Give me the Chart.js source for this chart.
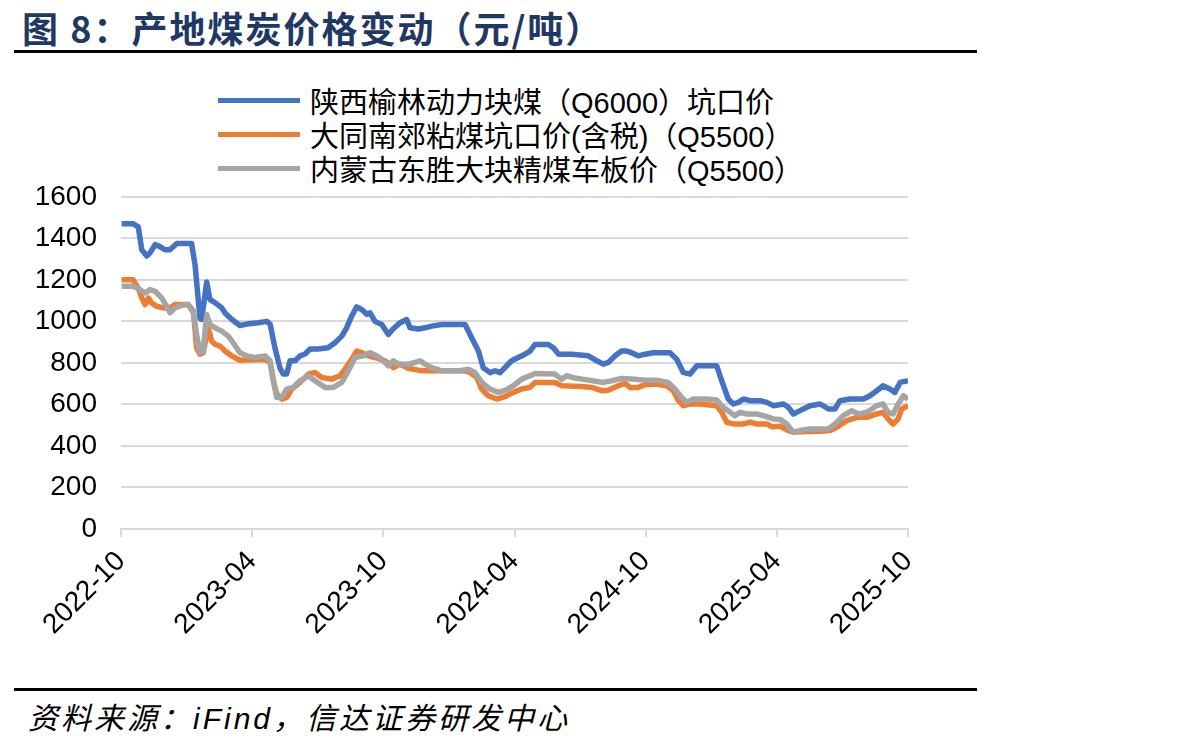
<!DOCTYPE html>
<html lang="zh">
<head>
<meta charset="UTF-8">
<title>产地煤炭价格变动</title>
<script src="https://cdn.jsdelivr.net/npm/chart.js@4.4.0/dist/chart.umd.min.js"></script>
<style>
    body {
        margin: 0;
        width: 1187px;
        height: 745px;
        background: #fff;
        position: relative;
        overflow: hidden;
        font-family: 'Liberation Sans', Arial, 'Noto Sans CJK SC', sans-serif;
    }
    .title {
        position: absolute;
        left: 22px;
        top: 1px;
        font-family: 'Noto Sans CJK SC', sans-serif;
        font-weight: bold;
        font-size: 36px;
        letter-spacing: 2px;
        color: #1f3864;
        white-space: nowrap;
    }
    .rule {
        position: absolute;
        left: 14px;
        width: 963px;
        height: 3px;
        background: #000;
    }
    .legend {
        position: absolute;
        left: 218px;
        top: 83px;
    }
    .legend-row {
        display: flex;
        align-items: center;
        height: 34px;
        font-family: 'Liberation Sans', Arial, 'Noto Sans CJK SC', sans-serif;
        font-size: 29px;
        color: #000;
        white-space: nowrap;
    }
    .legend-line {
        width: 82px;
        height: 5px;
        margin-right: 10px;
    }
    .source {
        position: absolute;
        left: 28px;
        top: 694px;
        font-family: 'Liberation Sans', Arial, 'Noto Sans CJK SC', sans-serif;
        font-style: italic;
        font-size: 30px;
        letter-spacing: 3px;
        color: #000;
        white-space: nowrap;
    }
    .chart-box {
        position: absolute;
        left: 0;
        top: 156px;
    }
</style>
</head>
<body>
    <div class="title">图 8：产地煤炭价格变动（元/吨）</div>
    <div class="rule" style="top:50px"></div>

    <div class="legend" id="legend"></div>

    <div class="chart-box">
        <canvas id="coalChart" width="960" height="500"></canvas>
    </div>

    <div class="rule" style="top:688px"></div>
    <div class="source">资料来源：iFind，信达证券研发中心</div>

<script>
// 横轴：以2022-10为0的月份数
const tickLabels = ['2022-10', '2023-04', '2023-10', '2024-04', '2024-10', '2025-04', '2025-10'];
const seriesNames = [
    '陕西榆林动力块煤（Q6000）坑口价',
    '大同南郊粘煤坑口价(含税)（Q5500）',
    '内蒙古东胜大块精煤车板价（Q5500）'
];
const seriesColors = ['#4472c4', '#ed7d31', '#a5a5a5'];

// 陕西榆林动力块煤
const yulinMonth = [0.03, 0.56, 0.79, 0.95, 1.18, 1.33, 1.56, 1.78, 2.01, 2.24, 2.55, 3.23, 3.39, 3.61, 3.69, 3.92, 4.07, 4.30, 4.61, 4.76,
    5.06, 5.44, 5.75, 6.27, 6.67, 6.82, 7.04, 7.27, 7.41, 7.58, 7.73, 7.96, 8.19, 8.42, 8.65, 9.01, 9.47, 9.79, 10.10, 10.32,
    10.55, 10.78, 11.01, 11.24, 11.39, 11.62, 11.93, 12.23, 12.44, 12.76, 13.07, 13.22, 13.60, 13.91, 14.21, 14.67, 15.74, 16.04, 16.35, 16.57,
    16.88, 17.11, 17.34, 17.64, 17.87, 18.17, 18.48, 18.71, 18.94, 19.25, 19.55, 19.78, 20.01, 20.62, 21.38, 21.76, 22.06, 22.29, 22.60, 22.90,
    23.13, 23.36, 23.66, 23.97, 24.35, 25.11, 25.42, 25.72, 26.03, 26.34, 27.25, 27.48, 27.78, 28.01, 28.24, 28.47, 28.77, 29.23, 29.54, 29.84,
    30.30, 30.53, 30.76, 31.06, 31.52, 31.98, 32.36, 32.66, 32.89, 33.35, 33.96, 34.26, 34.57, 34.86, 35.17, 35.40, 35.64, 36.00];
const yulinPrice = [1470, 1470, 1455, 1345, 1315, 1330, 1370, 1360, 1345, 1345, 1375, 1375, 1270, 1015, 1010, 1190, 1105, 1090, 1065, 1040,
    1010, 980, 987, 993, 1000, 987, 873, 777, 747, 747, 810, 810, 834, 843, 867, 867, 873, 897, 929, 969,
    1025, 1070, 1057, 1035, 1041, 1000, 985, 937, 963, 993, 1009, 969, 963, 969, 977, 985, 985, 921, 857, 777,
    753, 762, 753, 786, 810, 826, 842, 857, 889, 889, 889, 873, 842, 842, 834, 810, 794, 802, 834, 857,
    857, 849, 834, 842, 849, 849, 818, 754, 746, 786, 786, 714, 626, 602, 610, 626, 618, 618, 610, 594,
    602, 586, 554, 570, 594, 602, 578, 578, 618, 626, 626, 642, 666, 690, 674, 658, 706, 714];

// 大同南郊粘煤
const datongMonth = [0.03, 0.56, 0.79, 0.95, 1.10, 1.25, 1.40, 1.63, 1.94, 2.24, 2.47, 3.08, 3.31, 3.46, 3.61, 3.76, 3.99, 4.15, 4.30, 4.53,
    4.76, 5.06, 5.44, 5.98, 6.59, 6.82, 6.97, 7.12, 7.35, 7.58, 7.81, 8.19, 8.57, 8.87, 9.18, 9.64, 10.02, 10.25, 10.55, 10.78,
    11.01, 11.31, 11.62, 12.08, 12.46, 12.76, 13.14, 13.60, 13.91, 15.74, 15.97, 16.27, 16.50, 16.80, 17.19, 17.57, 17.95, 18.33, 18.71, 18.94,
    19.85, 20.16, 21.07, 21.53, 21.99, 22.28, 22.75, 23.06, 23.28, 23.66, 23.97, 24.43, 24.97, 25.27, 25.50, 25.72, 26.03, 26.49, 27.25, 27.48,
    27.71, 28.01, 28.47, 28.77, 29.08, 29.54, 29.76, 30.15, 30.53, 30.76, 31.06, 31.98, 32.43, 32.74, 33.20, 33.66, 34.12, 34.57, 34.86, 35.09,
    35.32, 35.55, 35.71, 36.00];
const datongPrice = [1200, 1200, 1160, 1113, 1081, 1113, 1089, 1073, 1065, 1065, 1081, 1081, 1049, 873, 842, 849, 969, 905, 889, 881,
    857, 834, 813, 815, 817, 802, 714, 650, 626, 634, 674, 706, 746, 754, 730, 722, 738, 770, 817, 857,
    849, 834, 826, 810, 777, 794, 774, 765, 762, 762, 754, 730, 674, 642, 626, 638, 658, 674, 682, 706,
    706, 690, 686, 682, 666, 668, 690, 701, 682, 682, 695, 698, 690, 666, 618, 594, 602, 602, 594, 562,
    514, 506, 506, 514, 506, 506, 493, 495, 474, 466, 468, 471, 474, 490, 522, 538, 538, 554, 562, 530,
    506, 530, 578, 594];

// 内蒙古东胜大块精煤
const dongshengMonth = [0.03, 0.56, 0.86, 1.10, 1.33, 1.56, 1.86, 2.09, 2.24, 2.47, 2.78, 3.08, 3.31, 3.46, 3.61, 3.76, 3.92, 4.07, 4.30, 4.61,
    4.91, 5.13, 5.44, 5.75, 6.13, 6.59, 6.82, 6.97, 7.12, 7.35, 7.58, 7.88, 8.19, 8.57, 8.87, 9.33, 9.71, 10.10, 10.40, 10.70,
    11.08, 11.39, 11.70, 11.93, 12.23, 12.46, 12.69, 13.14, 13.45, 13.68, 13.91, 14.21, 14.67, 15.51, 15.89, 16.19, 16.50, 16.88, 17.26, 17.57,
    17.95, 18.33, 18.71, 18.94, 19.85, 20.16, 20.39, 20.77, 21.38, 22.06, 22.45, 22.90, 23.36, 23.97, 24.50, 25.03, 25.34, 25.65, 25.88, 26.18,
    26.79, 27.25, 27.55, 27.86, 28.09, 28.32, 28.63, 29.08, 29.39, 29.84, 30.15, 30.45, 30.76, 31.06, 31.52, 32.36, 32.66, 33.04, 33.43, 33.73,
    34.12, 34.57, 34.86, 35.09, 35.32, 35.55, 35.79, 36.00];
const dongshengPrice = [1169, 1169, 1153, 1137, 1153, 1145, 1113, 1073, 1041, 1065, 1078, 1081, 1041, 937, 849, 857, 1033, 985, 969, 953,
    929, 897, 849, 834, 826, 834, 810, 714, 634, 634, 674, 682, 714, 738, 714, 682, 682, 706, 762, 826,
    834, 849, 834, 817, 786, 810, 794, 794, 802, 810, 794, 777, 762, 762, 770, 754, 706, 674, 658, 668,
    690, 722, 738, 749, 746, 722, 738, 727, 717, 706, 714, 725, 722, 717, 717, 706, 674, 634, 610, 626,
    626, 621, 586, 562, 546, 562, 554, 554, 546, 530, 528, 506, 466, 474, 482, 482, 506, 546, 570, 554,
    562, 594, 602, 562, 554, 602, 642, 625];

function toPoints(xs, ys) {
    return xs.map((x, i) => ({ x: x, y: ys[i] }));
}

// 图例（HTML）
const legendBox = document.getElementById('legend');
seriesNames.forEach((name, i) => {
    const row = document.createElement('div');
    row.className = 'legend-row';
    row.innerHTML = '<span class="legend-line" style="background:' + seriesColors[i] + '"></span><span>' + name + '</span>';
    legendBox.appendChild(row);
});

Chart.defaults.font.family = "'Liberation Sans', Arial, sans-serif";
Chart.defaults.font.size = 28;
Chart.defaults.color = '#000';

const lineStyle = {
    borderWidth: 5.5,
    borderJoinStyle: 'round',
    pointRadius: 0,
    tension: 0,
    fill: false
};

new Chart(document.getElementById('coalChart'), {
    type: 'line',
    data: {
        datasets: [
            Object.assign({ label: seriesNames[0], data: toPoints(yulinMonth, yulinPrice), borderColor: seriesColors[0], order: 3 }, lineStyle),
            Object.assign({ label: seriesNames[1], data: toPoints(datongMonth, datongPrice), borderColor: seriesColors[1], order: 2 }, lineStyle),
            Object.assign({ label: seriesNames[2], data: toPoints(dongshengMonth, dongshengPrice), borderColor: seriesColors[2], order: 1 }, lineStyle)
        ]
    },
    options: {
        responsive: false,
        animation: false,
        layout: {
            padding: { left: 0, right: 52, top: 15, bottom: 0 }
        },
        plugins: {
            legend: { display: false },
            tooltip: { enabled: false }
        },
        scales: {
            x: {
                type: 'linear',
                min: 0,
                max: 36,
                afterFit: function(scale) { scale.height = 127; },
                afterBuildTicks: function(scale) {
                    scale.ticks = tickLabels.map((t, i) => ({ value: i * 6 }));
                },
                ticks: {
                    stepSize: 6,
                    maxRotation: 45,
                    minRotation: 45,
                    padding: 8,
                    callback: function(value) { return tickLabels[value / 6]; }
                },
                grid: {
                    drawOnChartArea: false,
                    drawTicks: true,
                    tickLength: 8,
                    color: '#d9d9d9',
                    lineWidth: 2
                },
                border: { display: true, color: '#d9d9d9', width: 2 }
            },
            y: {
                min: 0,
                max: 1600,
                afterFit: function(scale) { scale.width = 121; },
                ticks: {
                    stepSize: 200,
                    padding: 24,
                    callback: function(value) { return String(value); }
                },
                grid: {
                    drawTicks: false,
                    color: '#d9d9d9',
                    lineWidth: 2
                },
                border: { display: false }
            }
        }
    }
});
</script>
</body>
</html>
